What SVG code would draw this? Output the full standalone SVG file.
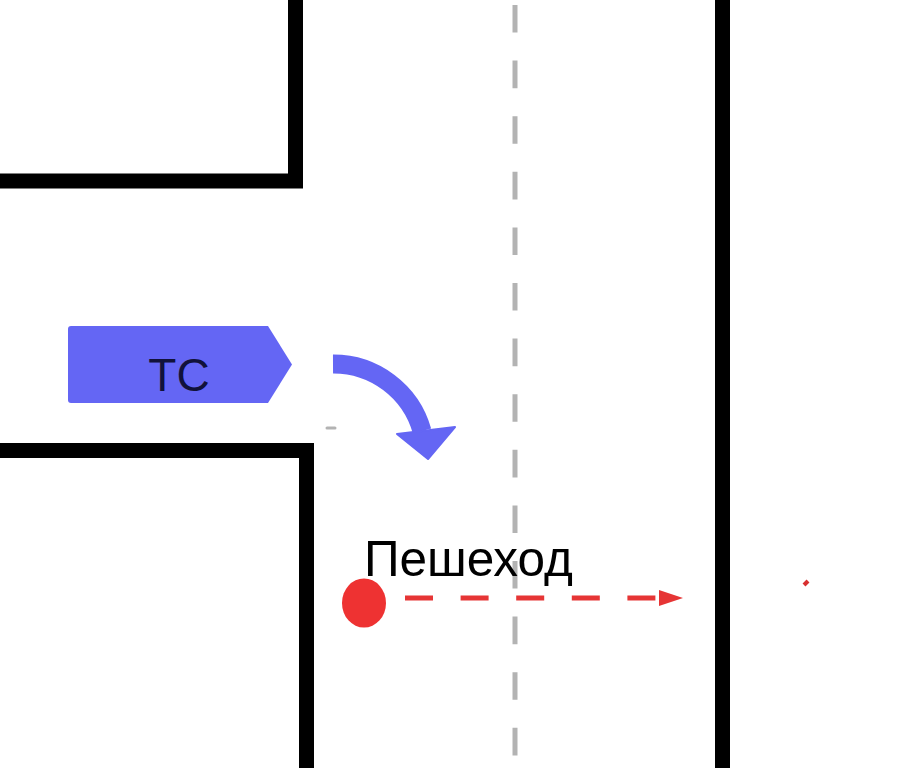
<svg xmlns="http://www.w3.org/2000/svg" width="919" height="768" viewBox="0 0 919 768">
<style>
.wall{fill:none;stroke:#000;stroke-width:15;stroke-linejoin:miter;stroke-linecap:butt}
.center{stroke:#b3b3b3;stroke-width:5;stroke-dasharray:27.6 28}
.lbl{font-family:"Liberation Sans",Arial,sans-serif}
</style>
<defs>
<marker id="redArrow" markerWidth="24" markerHeight="16" refX="0" refY="8" orient="auto" markerUnits="userSpaceOnUse">
<polygon points="0,0 24,8 0,16" fill="#e63535"/>
</marker>
</defs>
<rect width="919" height="768" fill="#fff"/>
<g id="walls">
<path class="wall" d="M295.5,0 V181 H0"/>
<path class="wall" d="M0,450.5 H306.5 V768"/>
<path class="wall" d="M722.5,0 V768"/>
</g>
<line id="center-line" class="center" x1="515" y1="5" x2="515" y2="768"/>
<g id="vehicle">
<path d="M71,326 H268 L292,364.5 L268,403 H71 Q68,403 68,400 V329 Q68,326 71,326 Z" fill="#6466f4"/>
<text class="lbl" x="179" y="391" font-size="46" text-anchor="middle" fill="#11123a">ТС</text>
</g>
<g id="pedestrian">
<ellipse cx="364" cy="603" rx="22" ry="24.5" fill="#ee3232"/>
<text class="lbl" x="364" y="576" font-size="49.5" fill="#000">Пешеход</text>
</g>
<g id="connectors">
<path d="M333,364 A92,92 0 0 1 422,431" fill="none" stroke="#6466f4" stroke-width="19"/>
<polygon points="397,434 455,427 428,459" fill="#6466f4" stroke="#6466f4" stroke-width="2" stroke-linejoin="round"/>
<line x1="405" y1="598" x2="659" y2="598" stroke="#e63535" stroke-width="5" stroke-dasharray="28 27.6" marker-end="url(#redArrow)"/>
</g>
<line x1="327" y1="428" x2="335" y2="428" stroke="#b3b3b3" stroke-width="3" stroke-linecap="round"/>
<line x1="804" y1="585" x2="808" y2="581" stroke="#d83030" stroke-width="4"/>
</svg>
